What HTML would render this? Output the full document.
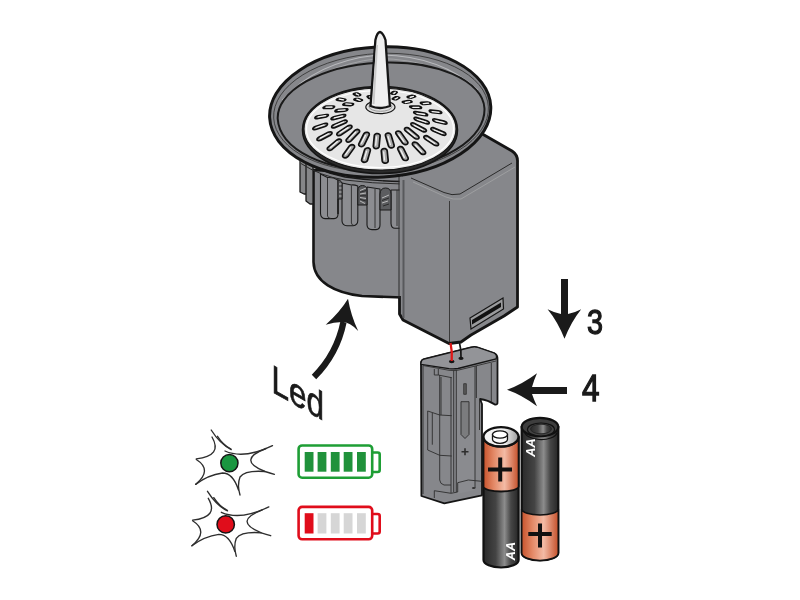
<!DOCTYPE html>
<html><head><meta charset="utf-8">
<style>
html,body{margin:0;padding:0;background:#fff;width:800px;height:600px;overflow:hidden}
svg{display:block;will-change:transform}
text{font-family:"Liberation Sans",sans-serif}
</style></head>
<body>
<svg width="800" height="600" viewBox="0 0 800 600">
<defs>
<linearGradient id="batDark" x1="0" x2="1" y1="0" y2="0">
<stop offset="0" stop-color="#2a2a2a"/><stop offset="0.35" stop-color="#444"/><stop offset="0.6" stop-color="#8c8c8c"/><stop offset="0.78" stop-color="#464646"/><stop offset="1" stop-color="#262626"/>
</linearGradient>
<linearGradient id="batOr" x1="0" x2="1" y1="0" y2="0">
<stop offset="0" stop-color="#c8532c"/><stop offset="0.3" stop-color="#e48a68"/><stop offset="0.6" stop-color="#f3bba5"/><stop offset="1" stop-color="#c5502a"/>
</linearGradient>
<linearGradient id="capG" x1="0" x2="1" y1="0" y2="0">
<stop offset="0" stop-color="#f4f4f4"/><stop offset="0.6" stop-color="#f0f0f0"/><stop offset="1" stop-color="#9a9a9a"/>
</linearGradient>
</defs>

<!-- cylinder body -->
<path d="M313.5,170 L313.5,262 C314,282 335,293 362,296 L402,297.5 L402,175 Z" fill="#86878b" stroke="#151515" stroke-width="2.6"/>
<!-- crown ribs -->
<g fill="#858688" stroke="#1a1a1a" stroke-width="1.3" stroke-linejoin="round">
<path d="M300,148 L300,192 L304,194 L307,194 L307,148 Z"/>
<path d="M306,150 L306,201 L310,204 L313,204 L313,150 Z"/>
</g>
<!-- dish underside band -->
<path d="M298,140 L298,160 Q330,178 402,184 L402,150 Z" fill="#86878b"/>
<path d="M295,156.5 Q318,172 345,177 Q372,181 402,181.5" fill="none" stroke="#1a1a1a" stroke-width="1.4"/>
<path d="M301,163.5 Q320,176 345,180 Q372,183.5 402,184" fill="none" stroke="#2a2a2a" stroke-width="1"/>
<g fill="#8c8d91" stroke="#1a1a1a" stroke-width="1.1" stroke-linejoin="round">
<path d="M320.5,174 L320.5,213.5 Q320.8,218.3 325,218.6 L334,218.6 Q338,218.3 338,214 L338,180 Q333,177 327.5,177.5 Z"/>
<path d="M342,183 L342,221 Q342.3,225.6 347,225.7 L353,225.7 Q357.8,225.3 357.8,220.5 L357.8,186 Q354,184.5 351.4,185 Z"/>
<path d="M367,187 L367,225 Q367.3,229.5 372,229.6 L376,229.6 Q380,229.2 380,225 L380,189 Z"/>
<path d="M391,190 L391,223.5 Q391.3,228.2 395,228.3 L401,228.3 L401,190 Z"/>
</g>
<g fill="none" stroke="#2a2a2a" stroke-width="0.9">
<path d="M327.5,178 L327.5,216 Q328,218.5 331,218.5"/>
<path d="M351.4,185.5 L351.4,223 Q352,225.5 354,225.5"/>
<path d="M397,190 L397,226"/>
<path d="M375,189 L375,228"/>
</g>
<g stroke="#1a1a1a" stroke-width="1">
<path d="M338,214 L338,180 Q340,179 342,183 L342,199 L338,199 Z" fill="#5c5d60"/>
<path d="M357.8,205 L357.8,191 Q358,185.5 362.4,185.5 Q367,185.5 367,191 L367,205 Z" fill="#58595c"/>
<path d="M380,210 L380,194 Q380.3,188 385.5,188 Q391,188 391,194 L391,210 Z" fill="#5c5d60"/>
</g>
<g stroke="#c4c4c4" stroke-width="0.9" fill="none">
<path d="M339,184 h2.5 M339,188 h2.5 M339,192 h2.5 M339,196 h2.5"/>
<path d="M360,190.5 L366,188 M360,194 L366,193 M360,197.5 L366,198.5 M360,201 L365,203.5"/>
<path d="M382,198 L389,195 M382,203 L388,201"/>
</g>
<g stroke="#1e1e1e" stroke-width="0.8" fill="none">
<path d="M360,192.3 L366,190.5 M360,195.8 L366,195.8 M360,199.3 L366,201"/>
<path d="M382,200.5 L389,198 M383,206 L389,204"/>
</g>


<!-- box -->
<path d="M399.5,178 L478,131.5 L512,151 Q518,155 517.5,162 L517.5,307 L504,316 L471,335 L461,342 L449,343.5 L403,320 L399.5,314 Z" fill="#86878b"/>
<path d="M478,131.5 L512,151 Q518,155 517.5,162 L517.5,307 L504,316 L471,335 L461,342 L449,343.5 L403,320 L399.5,314 L399.5,296" fill="none" stroke="#151515" stroke-width="2.8" stroke-linejoin="round"/>
<path d="M399,176 L399,298" stroke="#2a2a2a" stroke-width="1"/>
<path d="M403.5,180 L403.5,318" stroke="#58595c" stroke-width="2"/>
<path d="M411,178 L444,192.5 Q452,196 460,194 L512,163" fill="none" stroke="#2a2a2a" stroke-width="1"/>
<path d="M413,182 L446,197 Q453,200 461,199 L515,167" fill="none" stroke="#a0a1a3" stroke-width="0.9"/>
<line x1="449.5" y1="201" x2="449.5" y2="342" stroke="#3a3a3a" stroke-width="1"/>

<!-- slot on box -->
<path d="M470,318 L503,298 L503.5,309 L471,329 Z" fill="#9a9b9d" stroke="#151515" stroke-width="1.2"/>
<path d="M472,320 L501,302.5 L501,307 L472,324.5 Z" fill="#111"/>

<!-- dish -->
<g transform="rotate(-3 380.2 112)">
<ellipse cx="380.2" cy="112" rx="110.7" ry="65" fill="#86878b" stroke="#151515" stroke-width="3"/>
<ellipse cx="381" cy="112.5" rx="107.5" ry="59" fill="none" stroke="#3a3a3a" stroke-width="0.9"/>
<path d="M283,95 Q320,58 381,55 Q442,58 479,95" fill="none" stroke="#b9babd" stroke-width="1"/>
<path d="M281,100 Q320,62 381,58.5 Q442,62 481,100" fill="none" stroke="#a9aaad" stroke-width="0.8"/>
<path d="M277.5,113.7 A103.5,51 0 0 1 484.5,113.7 A103.5,56 0 0 1 277.5,113.7 Z" fill="#86878b" stroke="#1a1a1a" stroke-width="2"/>
</g>
<!-- disc -->
<ellipse cx="380" cy="130" rx="77.5" ry="43.5" fill="#2a2a2a" stroke="#151515" stroke-width="1.5"/>
<ellipse cx="380" cy="129" rx="76" ry="41" fill="#e6e6e6" stroke="#151515" stroke-width="1.2"/>
<ellipse cx="380" cy="129" rx="73.5" ry="38.5" fill="none" stroke="#ffffff" stroke-width="1.2"/>
<path d="M426.8,120.8 L427.8,121.2 L428.6,121.8 L429.1,122.4 L429.2,123.0 L429.0,123.5 L428.3,123.8 L427.4,123.8 L426.4,123.6 L416.5,120.4 L415.5,120.0 L414.7,119.4 L414.2,118.7 L414.1,118.1 L414.4,117.6 L415.0,117.4 L415.9,117.4 L416.9,117.6Z M424.7,128.7 L425.6,129.3 L426.1,130.0 L426.4,130.7 L426.1,131.3 L425.6,131.7 L424.7,131.9 L423.6,131.8 L422.6,131.4 L412.6,126.1 L411.7,125.5 L411.1,124.7 L410.9,124.0 L411.1,123.4 L411.7,123.0 L412.6,122.8 L413.6,123.0 L414.6,123.4Z M418.1,135.9 L418.7,136.6 L419.0,137.4 L418.9,138.2 L418.4,138.7 L417.5,139.0 L416.5,139.0 L415.4,138.7 L414.4,138.1 L405.5,130.8 L404.8,130.0 L404.5,129.2 L404.7,128.4 L405.2,127.9 L406.1,127.6 L407.1,127.6 L408.2,127.9 L409.2,128.5Z M407.5,141.6 L407.9,142.5 L407.8,143.3 L407.4,144.0 L406.6,144.5 L405.5,144.6 L404.4,144.4 L403.4,143.9 L402.6,143.2 L396.2,134.1 L395.8,133.2 L395.8,132.4 L396.3,131.6 L397.1,131.2 L398.2,131.0 L399.3,131.2 L400.3,131.8 L401.1,132.5Z M394.1,145.2 L394.1,146.2 L393.7,147.0 L392.9,147.6 L391.9,147.9 L390.8,147.9 L389.7,147.5 L388.9,146.8 L388.4,146.0 L385.5,135.8 L385.4,134.9 L385.8,134.0 L386.6,133.4 L387.6,133.1 L388.7,133.1 L389.8,133.5 L390.6,134.2 L391.1,135.1Z M379.1,146.4 L378.8,147.3 L378.1,148.0 L377.1,148.5 L376.0,148.6 L374.9,148.4 L374.0,147.8 L373.5,147.0 L373.3,146.1 L374.3,135.7 L374.6,134.8 L375.3,134.1 L376.3,133.6 L377.4,133.5 L378.5,133.7 L379.4,134.3 L380.0,135.1 L380.1,136.0Z M364.3,144.9 L363.6,145.7 L362.7,146.3 L361.6,146.6 L360.5,146.5 L359.6,146.1 L358.9,145.4 L358.7,144.6 L358.9,143.7 L363.7,134.0 L364.4,133.2 L365.3,132.6 L366.4,132.3 L367.5,132.3 L368.4,132.7 L369.1,133.4 L369.3,134.3 L369.1,135.2Z M351.1,140.9 L350.2,141.6 L349.2,142.0 L348.1,142.1 L347.1,141.9 L346.4,141.3 L346.1,140.6 L346.2,139.8 L346.8,139.0 L354.6,130.7 L355.5,130.0 L356.5,129.6 L357.6,129.4 L358.6,129.7 L359.3,130.2 L359.6,131.0 L359.5,131.8 L358.9,132.6Z M341.0,134.9 L340.0,135.4 L338.9,135.6 L337.9,135.6 L337.2,135.2 L336.8,134.6 L336.9,133.9 L337.3,133.1 L338.1,132.4 L347.7,126.1 L348.7,125.6 L349.8,125.3 L350.8,125.4 L351.5,125.7 L351.9,126.3 L351.9,127.1 L351.4,127.9 L350.6,128.6Z M334.9,127.6 L333.9,127.9 L332.9,127.9 L332.1,127.7 L331.7,127.2 L331.7,126.6 L332.0,125.9 L332.7,125.3 L333.7,124.8 L343.8,120.5 L344.8,120.2 L345.8,120.2 L346.6,120.4 L347.0,120.8 L347.1,121.4 L346.7,122.1 L346.0,122.8 L345.0,123.3Z M333.4,119.6 L332.5,119.7 L331.7,119.6 L331.2,119.3 L331.1,118.8 L331.3,118.3 L332.0,117.7 L332.8,117.2 L333.8,116.9 L343.2,114.6 L344.2,114.5 L345.0,114.5 L345.5,114.8 L345.6,115.3 L345.3,115.9 L344.7,116.5 L343.8,117.0 L342.8,117.3Z M336.5,111.9 L335.7,111.9 L335.2,111.7 L335.0,111.3 L335.2,110.8 L335.7,110.3 L336.5,109.9 L337.5,109.6 L338.4,109.4 L346.2,108.8 L347.1,108.8 L347.6,109.0 L347.8,109.3 L347.6,109.8 L347.1,110.3 L346.2,110.7 L345.3,111.0 L344.3,111.2Z M343.7,105.1 L343.2,105.0 L342.9,104.7 L343.0,104.4 L343.5,104.0 L344.2,103.6 L345.1,103.3 L346.1,103.2 L346.9,103.2 L352.7,103.6 L353.3,103.8 L353.5,104.0 L353.4,104.4 L353.0,104.8 L352.2,105.1 L351.3,105.4 L350.4,105.6 L349.5,105.6Z M354.3,99.9 L354.0,99.7 L354.0,99.4 L354.4,99.1 L355.1,98.8 L356.0,98.6 L356.9,98.5 L357.7,98.5 L358.3,98.6 L362.0,99.8 L362.3,100.0 L362.3,100.3 L361.9,100.6 L361.2,100.8 L360.4,101.1 L359.4,101.2 L358.6,101.2 L358.0,101.1Z M367.2,96.7 L367.2,96.5 L367.5,96.2 L368.1,96.0 L368.9,95.8 L369.8,95.8 L370.7,95.8 L371.4,95.9 L371.7,96.1 L373.3,97.7 L373.3,97.9 L373.0,98.1 L372.4,98.3 L371.6,98.5 L370.6,98.6 L369.8,98.5 L369.1,98.4 L368.7,98.3Z M381.2,95.7 L381.5,95.5 L382.0,95.3 L382.8,95.2 L383.7,95.2 L384.6,95.3 L385.3,95.5 L385.7,95.7 L385.8,95.9 L385.3,97.5 L385.1,97.8 L384.5,97.9 L383.7,98.0 L382.8,98.0 L382.0,97.9 L381.3,97.8 L380.8,97.6 L380.7,97.4Z M395.1,97.1 L395.6,96.9 L396.4,96.9 L397.3,96.9 L398.2,97.0 L398.9,97.3 L399.5,97.5 L399.6,97.8 L399.5,98.0 L396.9,99.5 L396.4,99.6 L395.6,99.6 L394.7,99.6 L393.8,99.4 L393.0,99.2 L392.5,99.0 L392.4,98.7 L392.5,98.5Z M407.7,100.6 L408.4,100.6 L409.3,100.7 L410.2,100.9 L411.1,101.1 L411.6,101.5 L411.9,101.8 L411.8,102.1 L411.3,102.3 L406.6,103.2 L405.9,103.2 L405.0,103.1 L404.0,102.9 L403.2,102.6 L402.7,102.3 L402.4,102.0 L402.5,101.7 L403.0,101.5Z M417.8,106.1 L418.7,106.2 L419.6,106.4 L420.5,106.8 L421.2,107.2 L421.5,107.6 L421.4,108.0 L421.0,108.3 L420.3,108.3 L413.5,108.3 L412.6,108.2 L411.6,108.0 L410.8,107.6 L410.1,107.2 L409.8,106.7 L409.8,106.4 L410.2,106.2 L410.9,106.1Z M424.4,113.0 L425.4,113.3 L426.3,113.7 L427.0,114.2 L427.5,114.7 L427.5,115.2 L427.2,115.6 L426.5,115.7 L425.6,115.7 L416.9,114.3 L415.9,114.0 L415.0,113.6 L414.2,113.1 L413.8,112.5 L413.8,112.0 L414.1,111.7 L414.8,111.6 L415.7,111.6Z M444.0,121.1 L445.1,121.5 L446.0,122.0 L446.6,122.6 L446.9,123.2 L446.8,123.7 L446.3,124.0 L445.4,124.1 L444.4,124.0 L435.7,121.9 L434.7,121.5 L433.7,121.0 L433.1,120.4 L432.8,119.8 L432.9,119.3 L433.5,119.0 L434.3,118.9 L435.3,119.0Z M443.7,132.0 L444.7,132.5 L445.5,133.2 L445.8,133.9 L445.8,134.6 L445.3,135.0 L444.5,135.3 L443.5,135.2 L442.5,134.9 L433.0,130.9 L432.0,130.4 L431.3,129.7 L430.9,129.0 L431.0,128.4 L431.4,127.9 L432.2,127.7 L433.2,127.7 L434.3,128.1Z M437.2,142.4 L438.0,143.1 L438.5,143.9 L438.5,144.7 L438.1,145.3 L437.4,145.6 L436.4,145.7 L435.3,145.5 L434.2,145.0 L425.2,139.1 L424.4,138.3 L423.9,137.5 L423.9,136.8 L424.3,136.1 L425.0,135.8 L426.0,135.7 L427.1,135.9 L428.2,136.5Z M424.9,151.2 L425.4,152.0 L425.6,152.9 L425.3,153.7 L424.6,154.2 L423.6,154.4 L422.4,154.3 L421.3,153.9 L420.4,153.2 L413.1,145.5 L412.5,144.6 L412.4,143.7 L412.7,143.0 L413.4,142.4 L414.4,142.2 L415.6,142.3 L416.7,142.7 L417.6,143.4Z M408.0,157.5 L408.2,158.4 L408.0,159.3 L407.3,160.0 L406.4,160.4 L405.2,160.5 L404.1,160.2 L403.1,159.6 L402.5,158.7 L398.0,149.6 L397.7,148.7 L398.0,147.8 L398.6,147.1 L399.6,146.7 L400.7,146.6 L401.9,146.9 L402.8,147.6 L403.5,148.4Z M388.2,160.7 L388.0,161.6 L387.5,162.4 L386.5,163.0 L385.4,163.2 L384.3,163.1 L383.2,162.6 L382.5,161.8 L382.2,160.9 L381.3,151.1 L381.4,150.2 L382.0,149.4 L382.9,148.8 L384.0,148.6 L385.2,148.7 L386.2,149.2 L386.9,150.0 L387.2,150.9Z M367.5,160.3 L367.0,161.1 L366.2,161.8 L365.1,162.2 L363.9,162.3 L362.8,161.9 L362.0,161.3 L361.6,160.5 L361.7,159.5 L364.5,150.0 L365.0,149.1 L365.8,148.4 L366.9,148.0 L368.1,147.9 L369.1,148.3 L369.9,148.9 L370.3,149.8 L370.3,150.7Z M348.1,156.4 L347.3,157.1 L346.3,157.7 L345.1,157.9 L344.1,157.7 L343.2,157.2 L342.7,156.5 L342.7,155.6 L343.1,154.7 L349.1,146.2 L349.9,145.4 L351.0,144.9 L352.1,144.7 L353.2,144.8 L354.0,145.3 L354.5,146.1 L354.6,147.0 L354.2,147.9Z M332.1,149.4 L331.1,150.0 L330.0,150.3 L328.9,150.3 L328.0,150.0 L327.4,149.4 L327.3,148.7 L327.6,147.8 L328.3,147.1 L336.6,140.2 L337.6,139.6 L338.7,139.2 L339.8,139.2 L340.7,139.5 L341.3,140.1 L341.4,140.9 L341.1,141.7 L340.4,142.5Z M320.9,140.1 L319.8,140.5 L318.8,140.7 L317.9,140.5 L317.2,140.1 L317.0,139.4 L317.2,138.7 L317.9,138.0 L318.8,137.3 L328.1,132.4 L329.2,132.0 L330.3,131.8 L331.2,132.0 L331.8,132.4 L332.0,133.0 L331.8,133.8 L331.2,134.5 L330.3,135.2Z M315.8,129.5 L314.7,129.7 L313.8,129.7 L313.1,129.4 L312.8,128.9 L313.0,128.3 L313.5,127.6 L314.3,127.0 L315.3,126.6 L324.5,123.6 L325.6,123.3 L326.5,123.4 L327.2,123.6 L327.5,124.1 L327.3,124.7 L326.8,125.4 L326.0,126.0 L325.0,126.5Z M317.0,118.6 L316.0,118.6 L315.3,118.4 L315.0,118.1 L315.0,117.6 L315.5,117.0 L316.2,116.5 L317.2,116.1 L318.2,115.8 L326.3,114.5 L327.2,114.5 L327.9,114.6 L328.3,115.0 L328.2,115.4 L327.8,116.0 L327.0,116.5 L326.1,117.0 L325.0,117.2Z M324.3,108.5 L323.6,108.4 L323.2,108.1 L323.1,107.7 L323.5,107.3 L324.1,106.9 L325.0,106.5 L326.0,106.2 L327.0,106.1 L333.3,106.1 L334.0,106.2 L334.4,106.4 L334.5,106.8 L334.1,107.2 L333.5,107.7 L332.6,108.1 L331.6,108.3 L330.6,108.4Z M336.9,100.1 L336.5,99.9 L336.4,99.6 L336.6,99.3 L337.2,98.9 L338.1,98.6 L339.0,98.4 L339.9,98.4 L340.7,98.4 L345.1,99.2 L345.5,99.4 L345.7,99.7 L345.4,100.0 L344.8,100.4 L344.0,100.7 L343.0,100.9 L342.1,101.0 L341.3,100.9Z M353.6,94.3 L353.4,94.0 L353.6,93.8 L354.1,93.5 L354.9,93.3 L355.8,93.1 L356.8,93.1 L357.5,93.1 L358.1,93.3 L360.5,94.6 L360.6,94.8 L360.5,95.1 L359.9,95.4 L359.1,95.6 L358.2,95.7 L357.3,95.8 L356.5,95.7 L356.0,95.6Z M372.7,91.5 L372.8,91.2 L373.2,91.0 L374.0,90.8 L374.9,90.7 L375.8,90.8 L376.6,90.9 L377.2,91.0 L377.4,91.3 L377.9,92.7 L377.8,93.0 L377.4,93.2 L376.6,93.3 L375.7,93.4 L374.8,93.4 L374.0,93.3 L373.4,93.2 L373.1,92.9Z M392.4,91.9 L392.8,91.7 L393.5,91.6 L394.3,91.5 L395.3,91.6 L396.1,91.8 L396.8,92.0 L397.1,92.2 L397.1,92.5 L395.6,93.9 L395.3,94.1 L394.6,94.2 L393.7,94.2 L392.7,94.2 L391.9,94.0 L391.3,93.8 L390.9,93.5 L391.0,93.3Z M411.0,95.5 L411.6,95.4 L412.5,95.4 L413.4,95.5 L414.3,95.7 L415.0,96.0 L415.4,96.3 L415.5,96.6 L415.1,96.8 L411.8,98.0 L411.1,98.1 L410.3,98.0 L409.3,97.9 L408.4,97.7 L407.7,97.4 L407.3,97.1 L407.3,96.8 L407.6,96.6Z M426.7,102.0 L427.6,102.0 L428.5,102.2 L429.5,102.5 L430.2,102.8 L430.7,103.2 L430.8,103.6 L430.6,103.9 L430.0,104.0 L424.6,104.5 L423.7,104.4 L422.8,104.3 L421.8,104.0 L421.1,103.6 L420.6,103.2 L420.5,102.8 L420.7,102.6 L421.3,102.4Z M438.1,110.8 L439.1,111.0 L440.1,111.3 L440.9,111.8 L441.5,112.3 L441.7,112.7 L441.5,113.1 L440.9,113.3 L440.1,113.3 L432.8,112.7 L431.8,112.5 L430.9,112.2 L430.0,111.7 L429.5,111.2 L429.3,110.8 L429.5,110.4 L430.0,110.2 L430.9,110.2Z" fill="#a8a8a8" stroke="#111" stroke-width="1.7"/>
<path d="M417.5,119.5 L425.8,122.2 M414.3,125.4 L422.6,129.8 M407.8,130.5 L415.0,136.5 M398.8,134.3 L403.9,141.6 M388.0,136.5 L390.4,144.6 M376.5,136.8 L375.7,145.2 M365.4,135.4 L361.5,143.2 M355.6,132.2 L349.3,138.9 M348.0,127.6 L340.1,132.8 M343.4,122.0 L335.0,125.5 M342.4,115.8 L334.4,117.8 M345.0,109.8 L338.2,110.3 M351.1,104.4 L345.9,103.9 M360.2,100.3 L356.9,99.1 M371.4,97.8 L370.0,96.4 M383.5,97.4 L384.0,95.9 M395.2,99.0 L397.6,97.7 M405.4,102.5 L409.7,101.6 M412.9,107.4 L418.9,107.4 M417.0,113.3 L424.5,114.5 M436.0,120.8 L443.8,122.7 M434.2,130.0 L442.3,133.4 M427.1,138.4 L434.7,143.5 M415.5,145.3 L421.6,151.8 M400.6,149.9 L404.3,157.4 M383.7,151.9 L384.5,159.9 M366.6,151.1 L364.3,159.0 M350.6,147.6 L345.6,154.6 M337.5,141.6 L330.5,147.4 M328.3,133.8 L320.3,138.1 M324.1,124.9 L316.1,127.5 M325.4,115.7 L318.1,116.8 M332.0,107.0 L326.1,107.1 M343.5,99.9 L339.3,99.1 M358.6,95.0 L356.3,93.7 M376.0,92.8 L375.5,91.3 M393.8,93.6 L395.2,92.2 M410.2,97.4 L413.4,96.3 M423.5,103.6 L428.5,103.2 M432.4,111.7 L439.0,112.3" fill="none" stroke="#f2f2f2" stroke-width="1.3" stroke-linecap="round"/>
<ellipse cx="380.4" cy="107.1" rx="14.6" ry="6.5" fill="#dedede" stroke="#151515" stroke-width="1.2"/>
<ellipse cx="380.4" cy="106.5" rx="11.5" ry="4.8" fill="none" stroke="#888" stroke-width="0.8"/>
<!-- spike -->
<path d="M370.5,106 L375.4,40 Q377,32.5 380,32 Q383,32.5 385.5,40 L389.9,106 Q380,110 370.5,106 Z" fill="#efefef" stroke="#151515" stroke-width="2.3"/>
<path d="M373.5,104 L377,45" stroke="#c9c9c9" stroke-width="2" fill="none"/>

<!-- battery holder -->
<path d="M421,363 L421.4,496 L444.3,503.3 L482,495.3 L482,404 L480,399 Q488,400 494.8,404.5 Q497.8,405 497.5,402 L497.5,359 Q497.8,355 494,353 L478,347.5 Q475,346.5 471,347.3 L424,359 Q421,360 421,363 Z" fill="#86878b" stroke="#151515" stroke-width="1.8" stroke-linejoin="round"/>
<path d="M457,371 L475,366 L475,490 L457,494 Z" fill="#8a8b8f"/>
<path d="M421,363 Q421,360 424,359 L471,347.3 Q475,346.5 478,347.5 L494,353 Q497.8,355 496,359 L458,368.5 Q454,369.3 449,368.7 L421,364.5 Z" fill="#939498" stroke="#151515" stroke-width="1.3"/>
<path d="M423,365.5 L449,370.3 Q454,371 458,370.2 L496,361" fill="none" stroke="#333" stroke-width="0.9"/>
<g fill="none" stroke="#2e2e2e" stroke-width="0.9">
<path d="M423,366 L423,494"/>
<path d="M434.3,369 L434.3,375 L438.3,375 L438.3,369 M438.3,375 L451.7,377.7"/>
<path d="M439.7,375 L439.7,480 M441,377 L441,415 M451,377 L451,480 M453.7,370 L453.7,492 M456.3,370 L456.3,492"/>
<path d="M427.7,450 L427.7,411 L439.7,415 L451.7,415.7"/>
<path d="M432.3,413 L432.3,444.7"/>
<path d="M427.7,450 L439.7,455.3 L451.7,456"/>
<path d="M475,366 L475,488 M476.4,366 L476.4,398"/>
<path d="M491.3,363 L491.3,402"/>
<path d="M479.5,399 L479.5,430"/>
<path d="M434.3,498 L434.3,490.7 L451,493.3 L457.7,492 L457.7,482.7 L468.3,480 L481.7,481.3"/>
<path d="M451,480 L451,493"/>
<path d="M439.7,480 Q440,484 444,485 L451,485"/>
</g>
<path d="M463.7,383.7 L466.3,383.7 L466.3,394.3 L463.7,394.3 Z" fill="#5a5a5a" stroke="#2e2e2e" stroke-width="0.8"/>
<path d="M461,401.7 L469,401.7 L469,434.5 L465,438.5 L461,434.5 Z" fill="#7b7c7e" stroke="#2e2e2e" stroke-width="0.9"/>
<path d="M461.5,451.8 h7 M465,448.3 v7" stroke="#2e2e2e" stroke-width="1.6"/>
<ellipse cx="473.7" cy="488" rx="1.8" ry="1" fill="#333"/>
<ellipse cx="451.7" cy="361.5" rx="2.8" ry="1.7" fill="#151515"/>
<ellipse cx="461" cy="358.3" rx="2.6" ry="1.6" fill="#151515"/>
<path d="M450.5,343 Q452.5,352 451.7,361" fill="none" stroke="#e01818" stroke-width="2.3"/>
<path d="M459.5,343 Q461.5,350 461,358" fill="none" stroke="#151515" stroke-width="1.7"/>


<!-- back battery -->
<path d="M521.7,427 L521.7,553 A18.3,7.5 0 0 0 558.3,553 L558.3,427 Z" fill="url(#batDark)" stroke="#111" stroke-width="2.2"/>
<path d="M521.7,509 A18.3,6 0 0 0 558.3,509 L558.3,553 A18.3,7.5 0 0 1 521.7,553 Z" fill="url(#batOr)" stroke="#111" stroke-width="1.6"/>
<ellipse cx="540" cy="427" rx="18.3" ry="9.2" fill="#3e3e3e" stroke="#111" stroke-width="2.2"/>
<ellipse cx="541" cy="429.5" rx="13.5" ry="6.5" fill="#444" stroke="#111" stroke-width="1.2"/>
<ellipse cx="541" cy="429" rx="10.5" ry="4.8" fill="url(#batDark)" stroke="#222" stroke-width="0.9"/>
<path d="M525,431 A16,7.5 0 0 0 557,433" fill="none" stroke="#111" stroke-width="1.2"/>
<path d="M528.3,534 h23.4 M540,523.5 v24" stroke="#111" stroke-width="4"/>
<text transform="translate(535,457.5) rotate(-90) skewX(-12)" font-size="13" font-weight="bold" fill="#fff" textLength="18.5" lengthAdjust="spacingAndGlyphs">AA</text>

<path d="M483.5,437 L483.5,560 A17.55,7.5 0 0 0 518.6,560 L518.6,437 Z" fill="url(#batDark)" stroke="#111" stroke-width="2.2"/>
<path d="M483.5,437 A17.55,9.7 0 0 0 518.6,437 L518.6,486.5 A17.55,5 0 0 1 483.5,486.5 Z" fill="url(#batOr)" stroke="#111" stroke-width="1.8"/>
<ellipse cx="501" cy="436.8" rx="17.55" ry="9.7" fill="url(#capG)" stroke="#111" stroke-width="2.3"/>
<path d="M492.5,434.5 L492.5,439.5 A7.5,3.8 0 0 0 507.5,439.5 L507.5,434.5 Z" fill="#fafafa" stroke="#111" stroke-width="1.3"/>
<ellipse cx="500" cy="434.5" rx="7.5" ry="3.6" fill="#fff" stroke="#111" stroke-width="1.3"/>
<path d="M488,469.5 h24 M500.2,457.5 v24" stroke="#111" stroke-width="4"/>
<text transform="translate(515,561) rotate(-90) skewX(-12)" font-size="13" font-weight="bold" fill="#fff" textLength="18.5" lengthAdjust="spacingAndGlyphs">AA</text>


<!-- arrows -->
<path d="M561,279 L568,279 L568,314 Q575,312.5 581.2,309.2 Q571,322 564.5,338.8 Q558,322 547.6,309.2 Q554,312.5 561,314 Z" fill="#1a1a1a"/>
<path d="M567,386.9 L567,394 L532,394 Q534,400 537,406.3 Q522,395 507,389.8 Q522,384.5 537,373.3 Q534,380 532,386.9 Z" fill="#1a1a1a"/>
<path d="M314,377 Q337,354 343.5,322" fill="none" stroke="#1a1a1a" stroke-width="6.3"/>
<path d="M348,298.7 Q351,316 358.2,331 Q350,322 342,322 Q334,322 325.7,324.7 Q340,312 348,298.7 Z" fill="#1a1a1a"/>

<text x="587" y="333.5" font-size="35" fill="#1a1a1a" stroke="#1a1a1a" stroke-width="1.3" textLength="16" lengthAdjust="spacingAndGlyphs">3</text>
<text x="582" y="400.8" font-size="36" fill="#1a1a1a" stroke="#1a1a1a" stroke-width="1.3" textLength="17.5" lengthAdjust="spacingAndGlyphs">4</text>
<text x="0" y="0" font-size="39.5" fill="#1a1a1a" stroke="#1a1a1a" stroke-width="0.7" textLength="52.5" lengthAdjust="spacingAndGlyphs" transform="translate(271.5,391.5) skewY(29.5)">Led</text>

<!-- LED icons -->
<g id="splat" fill="none" stroke="#2e2e2e" stroke-width="1.35" stroke-linecap="round">
<path d="M211.2,430 Q220,444 231.2,449.6"/>
<path d="M217.5,436.3 Q223,445 231,449"/>
<path d="M212,437 Q223,456 196.3,458.8"/>
<path d="M225,451 Q244,459.5 272.5,445.6"/>
<path d="M266,448.5 Q236,460 265,471.5 Q270,473 274.4,474.4"/>
<path d="M265,471.5 Q245,470 240,477 Q237,485 240,495"/>
<path d="M238.5,490 Q233,473 222.5,473 Q208,475 195.6,484.4"/>
<path d="M195.6,484.4 Q213,470 196.3,459.5"/>
</g>
<circle cx="229.4" cy="463.1" r="8.6" fill="#1a9640" stroke="#151515" stroke-width="1.5"/>
<use href="#splat" transform="translate(-3.7,61.3)"/>
<circle cx="225.7" cy="524.4" r="8.7" fill="#e00d1b" stroke="#151515" stroke-width="1.5"/>

<!-- battery icons -->
<rect x="298.6" y="445.5" width="73.6" height="32.2" rx="3.5" fill="#fff" stroke="#1e9e35" stroke-width="2.6"/>
<path d="M372.2,452.5 h5.5 a2,2 0 0 1 2,2 v15.5 a2,2 0 0 1 -2,2 h-5.5" fill="none" stroke="#1e9e35" stroke-width="2.6"/>
<g fill="#20923b">
<rect x="304.7" y="452" width="8.8" height="19.7"/><rect x="317.6" y="452" width="8.8" height="19.7"/><rect x="330.8" y="452" width="8.8" height="19.7"/><rect x="343.7" y="452" width="8.8" height="19.7"/><rect x="357" y="452" width="8.8" height="19.7"/>
</g>
<rect x="298.6" y="506.9" width="73.6" height="32.4" rx="3.5" fill="#fff" stroke="#e00d1b" stroke-width="2.6"/>
<path d="M372.2,514 h5.5 a2,2 0 0 1 2,2 v15.5 a2,2 0 0 1 -2,2 h-5.5" fill="none" stroke="#e00d1b" stroke-width="2.6"/>
<rect x="304.7" y="513.2" width="8.8" height="20.3" fill="#e00d1b"/>
<g fill="#d6d6d6">
<rect x="317.6" y="513.2" width="8.8" height="20.3"/><rect x="330.8" y="513.2" width="8.8" height="20.3"/><rect x="343.7" y="513.2" width="8.8" height="20.3"/><rect x="357" y="513.2" width="8.8" height="20.3"/>
</g>
</svg>
</body></html>
